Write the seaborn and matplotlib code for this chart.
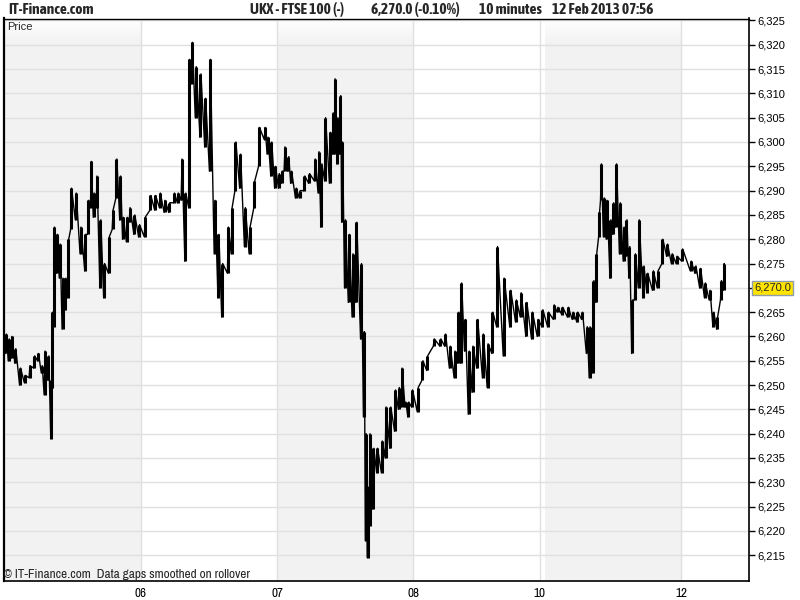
import matplotlib
matplotlib.use("Agg")
import matplotlib.pyplot as plt
from matplotlib import font_manager
from matplotlib.ticker import FixedLocator
import numpy as np
import pandas as pd
import seaborn as sns

# 10-minute bar index (144 bars a day, weekend squeezed out as on the site)
bars = [
    1, 4, 7, 11, 16, 21, 26, 31, 35, 39,
    42, 46, 49, 50, 52, 55, 58, 61, 64, 67,
    70, 75, 80, 85, 88, 91, 94, 97, 101, 105,
    110, 114, 118, 122, 125, 129, 132, 137, 142, 148,
    154, 159, 164, 169, 174, 179, 183, 187, 191, 195,
    198, 202, 207, 212, 217, 222, 226, 230, 236, 240,
    244, 249, 254, 259, 264, 269, 275, 278, 282, 286,
    290, 293, 296, 300, 303, 308, 312, 317, 322, 328,
    332, 335, 339, 344, 347, 349, 352, 355, 357, 360,
    364, 368, 372, 377, 380, 382, 384, 386, 390, 394,
    399, 403, 408, 413, 417, 420, 424, 427, 431, 437,
    442, 447, 454, 461, 466, 471, 476, 480, 483, 487,
    491, 495, 500, 506, 511, 516, 521, 528, 535, 541,
    546, 552, 558, 564, 569, 575, 581, 585, 590, 596,
    601, 606, 611, 616, 619, 623, 626, 629, 631, 634,
    637, 641, 644, 647, 651, 655, 658, 661, 664, 667,
    671, 676, 680, 686, 691, 696, 701, 706, 711, 717,
    726, 731, 736, 741, 746, 750, 754, 758, 761,
]
lows = [
    6256.5, 6255, 6255.5, 6254.5, 6250, 6250.5, 6251.5, 6253.5, 6255, 6252.5,
    6248, 6251, 6239, 6249.5, 6262, 6273, 6272, 6261.5, 6265.5, 6268,
    6282, 6284, 6277, 6273.5, 6281, 6286.5, 6284.5, 6286.5, 6270, 6268,
    6273, 6282, 6288.5, 6284, 6280, 6279.5, 6283.5, 6281, 6280.5, 6280.5,
    6286, 6286, 6286.5, 6285.5, 6285.5, 6287.5, 6287.5, 6288, 6275.5, 6286.5,
    6312, 6305, 6301, 6299, 6294, 6277, 6268, 6264, 6273, 6277,
    6290, 6290.5, 6278.5, 6277, 6286.5, 6295, 6300.5, 6297.5, 6293, 6290.5,
    6290.5, 6291.5, 6294, 6294, 6291.5, 6288.5, 6288.5, 6290, 6291.5, 6292,
    6289.5, 6282.5, 6292, 6291.5, 6297.5, 6297.5, 6295.5, 6297.5, 6283.5, 6270,
    6267, 6264, 6267, 6259.5, 6243.5, 6218, 6214.5, 6221, 6224.5, 6232,
    6232, 6235, 6237, 6240.5, 6245, 6245.5, 6245.5, 6243.5, 6245.5, 6244.5,
    6251, 6253, 6258, 6258, 6258, 6253.5, 6251.5, 6254.5, 6254.5, 6257,
    6244, 6248.5, 6253.5, 6251.5, 6249.5, 6256.5, 6262, 6256, 6262, 6263,
    6264, 6260, 6259.5, 6260, 6262, 6262, 6263.5, 6265, 6264.5, 6264,
    6263.5, 6263, 6263.5, 6256.5, 6251.5, 6252.5, 6267, 6280.5, 6288, 6280.5,
    6280, 6272, 6281, 6282.5, 6277, 6275.5, 6276.5, 6272, 6256.5, 6267.5,
    6270, 6268, 6269, 6269.5, 6270, 6275, 6276.5, 6275, 6275, 6275.5,
    6273.5, 6273, 6270, 6268, 6267.5, 6262, 6261.5, 6267.5, 6269.5,
]
highs = [
    6260.5, 6259.5, 6260, 6257.5, 6253.5, 6252, 6254, 6256, 6256.5, 6254,
    6257, 6256, 6251, 6265, 6282.5, 6281, 6279, 6272, 6272, 6280,
    6290.5, 6289.5, 6282.5, 6281, 6288, 6296, 6289.5, 6293, 6284, 6275,
    6280.5, 6286, 6296.5, 6293, 6284.5, 6284.5, 6286.5, 6285, 6283, 6284.5,
    6289, 6289, 6289.5, 6288, 6287.5, 6289.5, 6289.5, 6296.5, 6289.5, 6317,
    6320.5, 6315.5, 6314, 6309, 6317, 6288, 6281, 6275, 6282.5, 6286.5,
    6300, 6297.5, 6286.5, 6282.5, 6292, 6303, 6303, 6301, 6300, 6295,
    6293.5, 6294, 6299, 6297, 6294, 6290.5, 6290, 6293, 6293.5, 6296.5,
    6298, 6295.5, 6305, 6302, 6306, 6313, 6305, 6309.5, 6300, 6284,
    6281, 6277, 6283.5, 6275, 6261, 6240, 6229, 6240, 6237, 6237,
    6238.5, 6245.5, 6245.5, 6249, 6249.5, 6253.5, 6246.5, 6246.5, 6249, 6249.5,
    6255, 6256, 6259.5, 6259.5, 6260.5, 6258, 6257, 6265, 6271, 6263.5,
    6257, 6258, 6263.5, 6260.5, 6258.5, 6265, 6278.5, 6272, 6269.5, 6267.5,
    6269, 6267, 6265, 6263.5, 6265.5, 6265, 6266.5, 6266, 6266, 6266,
    6265, 6265, 6265, 6262, 6262, 6271.5, 6277, 6285.5, 6295.5, 6288.5,
    6288, 6284, 6287.5, 6295.5, 6287.5, 6282.5, 6284, 6278.5, 6267.5, 6277,
    6284, 6274.5, 6273, 6273.5, 6273.5, 6280, 6279, 6277, 6276.5, 6278,
    6275.5, 6274.5, 6274, 6271, 6269.5, 6265, 6264, 6271.5, 6275,
]
last_bar = 762
last_price = 6270.0

day_ticks = [144, 288, 432, 566, 716]
day_labels = ["06", "07", "08", "10", "12"]
shaded_days = [(-1, 144), (288, 432), (572, 716)]
price_ticks = [6215, 6220, 6225, 6230, 6235, 6240, 6245, 6250, 6255, 6260, 6265,
               6270, 6275, 6280, 6285, 6290, 6295, 6300, 6305, 6310, 6315, 6320, 6325]
bold_ticks = [6250, 6300]

assert len(bars) == len(lows) == len(highs)


def narrow_font(bold):
    # first narrow family that really has the weight asked for
    want = 700 if bold else 400
    for name in ["Archivo Narrow", "Asap Condensed", "Roboto Condensed"]:
        for f in font_manager.fontManager.ttflist:
            w = f.weight if isinstance(f.weight, int) else font_manager.weight_dict.get(f.weight, 400)
            if f.name == name and f.style == "normal" and abs(w - want) <= 100:
                return [name, "DejaVu Sans"]
    return ["Archivo Narrow", "DejaVu Sans"]


sns.set_style("white")
plt.rcParams["font.family"] = ["Liberation Sans", "DejaVu Sans"]
NARROW = narrow_font(False)
NARROW_BOLD = narrow_font(True)

# trace each bar low -> high so the dense zig-zag looks like the tick chart
path_x, path_y = [], []
for b, lo, hi in zip(bars, lows, highs):
    path_x += [b - 0.5, b + 0.5]
    path_y += [lo, hi]
path_x.append(last_bar)
path_y.append(last_price)
df = pd.DataFrame({"bar": path_x, "price": path_y})

fig = plt.figure(figsize=(8, 6), dpi=100)
ax = fig.add_axes([4 / 800, 19 / 600, 745 / 800, 562.5 / 600])

x0, x1 = -1, 787.7
y0, y1 = 6209.7, 6325.4

for a, b in shaded_days:
    ax.axvspan(max(a, x0), b, color="#F2F2F2", lw=0, zorder=0.1)

# white fade at the top of the panel
fade = np.ones((40, 1, 4))
fade[:, 0, 3] = np.linspace(1, 0, 40)
ax.imshow(fade, extent=(x0, x1, 6320.2, y1), aspect="auto", origin="upper",
          interpolation="bilinear", zorder=0.3)

ax.vlines(bars, lows, highs, color="black", lw=2.2, zorder=3)
sns.lineplot(data=df, x="bar", y="price", sort=False, estimator=None,
             color="black", lw=1.0, ax=ax, zorder=3)

ax.set_xlim(x0, x1)
ax.set_ylim(y0, y1)
ax.set_xlabel("")
ax.set_ylabel("")

ax.set_axisbelow(True)
ax.xaxis.set_major_locator(FixedLocator(day_ticks))
ax.set_xticklabels(day_labels, fontfamily=NARROW, fontsize=9.5)
ax.yaxis.set_major_locator(FixedLocator(price_ticks))
ylabels = ["" if p == last_price else f"{p:,}" for p in price_ticks]
ax.set_yticklabels(ylabels, fontsize=8)
for lab, p in zip(ax.get_yticklabels(), price_ticks):
    if p in bold_ticks:
        lab.set_fontweight("bold")
        lab.set_fontsize(8.5)
ax.yaxis.tick_right()
ax.grid(True, color="#E0E0E0", lw=1)
ax.tick_params(axis="y", which="major", direction="out", length=4, width=1,
               color="black", pad=2, labelcolor="black")
ax.tick_params(axis="x", which="major", length=0, pad=5, labelcolor="black")

for side, lw in [("left", 1.6), ("right", 1.2), ("bottom", 1.2), ("top", 1.0)]:
    ax.spines[side].set_visible(True)
    ax.spines[side].set_color("black")
    ax.spines[side].set_linewidth(lw)

ax.annotate(f"{last_price:,.1f}", xy=(1, last_price), xycoords=("axes fraction", "data"),
            xytext=(3.6, 0), textcoords="offset points", ha="left", va="center",
            fontsize=8, annotation_clip=False,
            bbox=dict(boxstyle="square,pad=0.18", fc="#FFE400", ec="#8E9CAE", lw=1))

ax.text(0.004, 0.993, "Price", transform=ax.transAxes, ha="left", va="top", fontsize=8)
ax.text(0.0, 0.001, "\u00a9 IT-Finance.com  Data gaps smoothed on rollover",
        transform=ax.transAxes, ha="left", va="bottom", fontsize=9.5, fontfamily=NARROW)

fig.text(8 / 800, 1 - 9.5 / 600, "IT-Finance.com", ha="left", va="center",
         fontsize=11, fontweight="bold", fontfamily=NARROW_BOLD)
header = [(250, "UKX - FTSE 100 (-)"), (371, "6,270.0 (-0.10%)"),
          (479, "10 minutes"), (552, "12 Feb 2013 07:56")]
for px, txt in header:
    fig.text(px / 800, 1 - 9.5 / 600, txt, ha="left", va="center",
             fontsize=11, fontweight="bold", fontfamily=NARROW_BOLD)

fig.savefig("out.png", dpi=100, facecolor="white")
